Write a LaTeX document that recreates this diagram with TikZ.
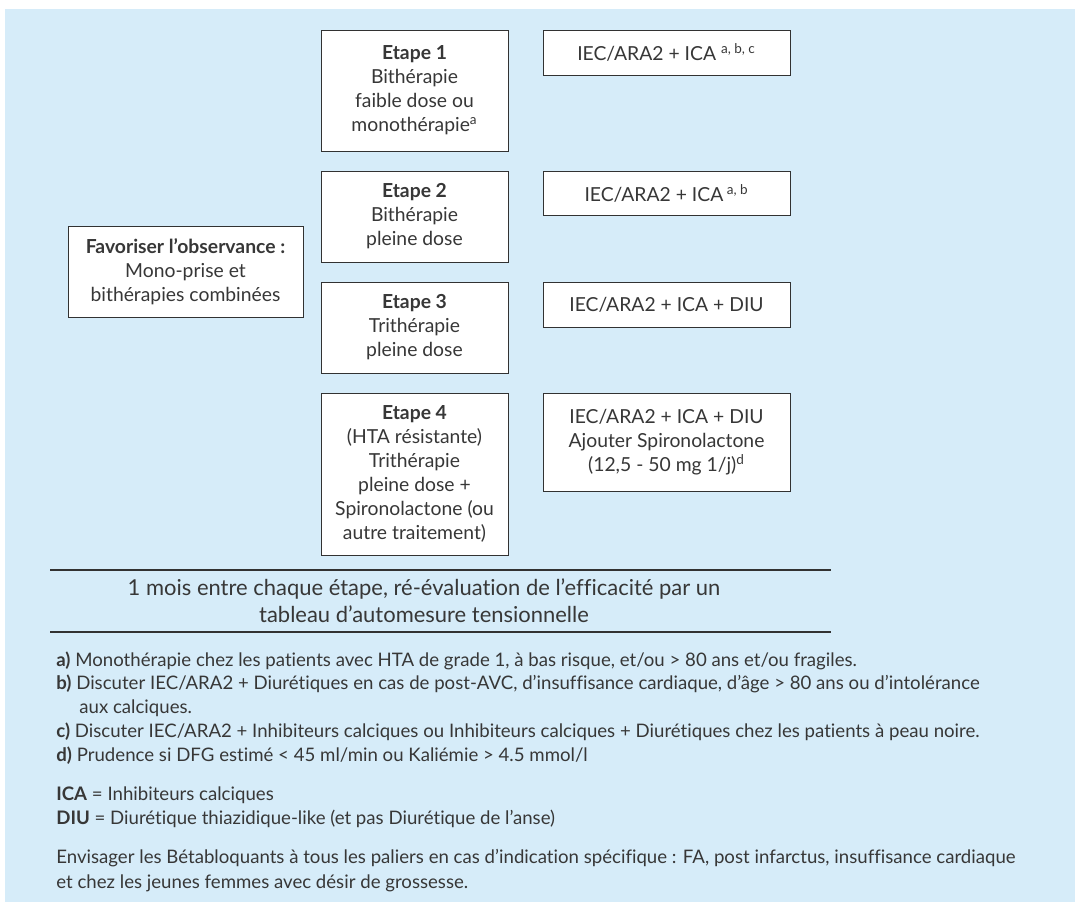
\documentclass[tikz,border=0pt]{standalone}
\usepackage{fontspec}
\setmainfont{Lato}[Ligatures=NoCommon]
\usepackage{tikz}

\definecolor{fond}{RGB}{214,236,249}
\definecolor{encre}{RGB}{55,55,55}
\definecolor{trait}{RGB}{50,50,50}

\newcommand{\boxfont}{\fontsize{11}{13.7}\selectfont}
\newcommand{\notefont}{\fontsize{10.6}{13.7}\selectfont}

\tikzset{
  etape/.style={draw=trait, fill=white, align=center, inner sep=0pt,
    minimum width=3.74cm, text=encre, font=\boxfont},
  traitement/.style={etape, minimum width=4.94cm},
  note/.style={anchor=base west, inner sep=0pt, text=encre, font=\notefont},
  titre/.style={anchor=base, inner sep=0pt, text=encre, font=\fontsize{12.5}{14}\selectfont},
}

\begin{document}
\begin{tikzpicture}[x=0.02cm, y=-0.02cm]
      \useasboundingbox (0,0) rectangle (1075,902);
      \fill[fond] (5,9) rectangle (1075,902);

      \node[etape, minimum width=4.7cm, minimum height=1.82cm] (obs) at (185.5,271.5)
        {\textbf{Favoriser l'observance :}\\Mono-prise et\\bithérapies combinées};

      \node[etape, minimum height=2.42cm] (e1) at (414.5,90.5)
        {\textbf{Etape 1}\\Bithérapie\\faible dose ou\\monothérapie\textsuperscript{a}};
      \node[etape, minimum height=1.82cm] (e2) at (414.5,216.5)
        {\textbf{Etape 2}\\Bithérapie\\pleine dose};
      \node[etape, minimum height=1.82cm] (e3) at (414.5,327.5)
        {\textbf{Etape 3}\\Trithérapie\\pleine dose};
      \node[etape, minimum height=3.24cm] (e4) at (414.5,474)
        {\textbf{Etape 4}\\(HTA résistante)\\Trithérapie\\pleine dose +\\Spironolactone (ou\\autre traitement)};

      \node[traitement, minimum height=0.9cm] (t1) at (666.5,52.5)
        {IEC/ARA2 + ICA \textsuperscript{a, b, c}};
      \node[traitement, minimum height=0.88cm] (t2) at (666.5,193)
        {IEC/ARA2 + ICA\textsuperscript{ a, b}};
      \node[traitement, minimum height=0.9cm] (t3) at (666.5,304.5)
        {IEC/ARA2 + ICA + DIU};
      \node[traitement, minimum height=1.96cm] (t4) at (666.5,442)
        {IEC/ARA2 + ICA + DIU\\Ajouter Spironolactone\\(12,5 - 50 mg 1/j)\textsuperscript{d}};

      \coordinate (hg) at (50,570);
      \coordinate (hd) at (831,570);
      \coordinate (bg) at (50,632);
      \coordinate (bd) at (831,632);
      \draw[trait, thick] (hg) -- (hd);
      \draw[trait, thick] (bg) -- (bd);
      \node[titre] (mois) at (424,595)
        {1 mois entre chaque étape, ré-évaluation de l'efficacité par un};
      \node[titre] (tab) at (424,622)
        {tableau d'automesure tensionnelle};

      \node[note] (na) at (56,666) {\textbf{a)} Monothérapie chez les patients avec HTA de grade 1, à bas risque, et/ou > 80 ans et/ou fragiles.};
      \node[note] (nb) at (56,689) {\textbf{b)} Discuter IEC/ARA2 + Diurétiques en cas de post-AVC, d'insuffisance cardiaque, d'âge > 80 ans ou d'intolérance};
      \node[note] (nb2) at (79,713) {aux calciques.};
      \node[note] (nc) at (56,737) {\textbf{c)} Discuter IEC/ARA2 + Inhibiteurs calciques ou Inhibiteurs calciques + Diurétiques chez les patients à peau noire.};
      \node[note] (nd) at (56,761) {\textbf{d)} Prudence si DFG estimé < 45 ml/min ou Kaliémie > 4.5 mmol/l};
      \node[note] (ica) at (56,800) {\textbf{ICA} = Inhibiteurs calciques};
      \node[note] (diu) at (56,824) {\textbf{DIU} = Diurétique thiazidique-like (et pas Diurétique de l'anse)};
      \node[note] (bb1) at (56,863) {Envisager les Bétabloquants à tous les paliers en cas d'indication spécifique : FA, post infarctus, insuffisance cardiaque};
      \node[note] (bb2) at (56,888) {et chez les jeunes femmes avec désir de grossesse.};
\end{tikzpicture}
\end{document}
